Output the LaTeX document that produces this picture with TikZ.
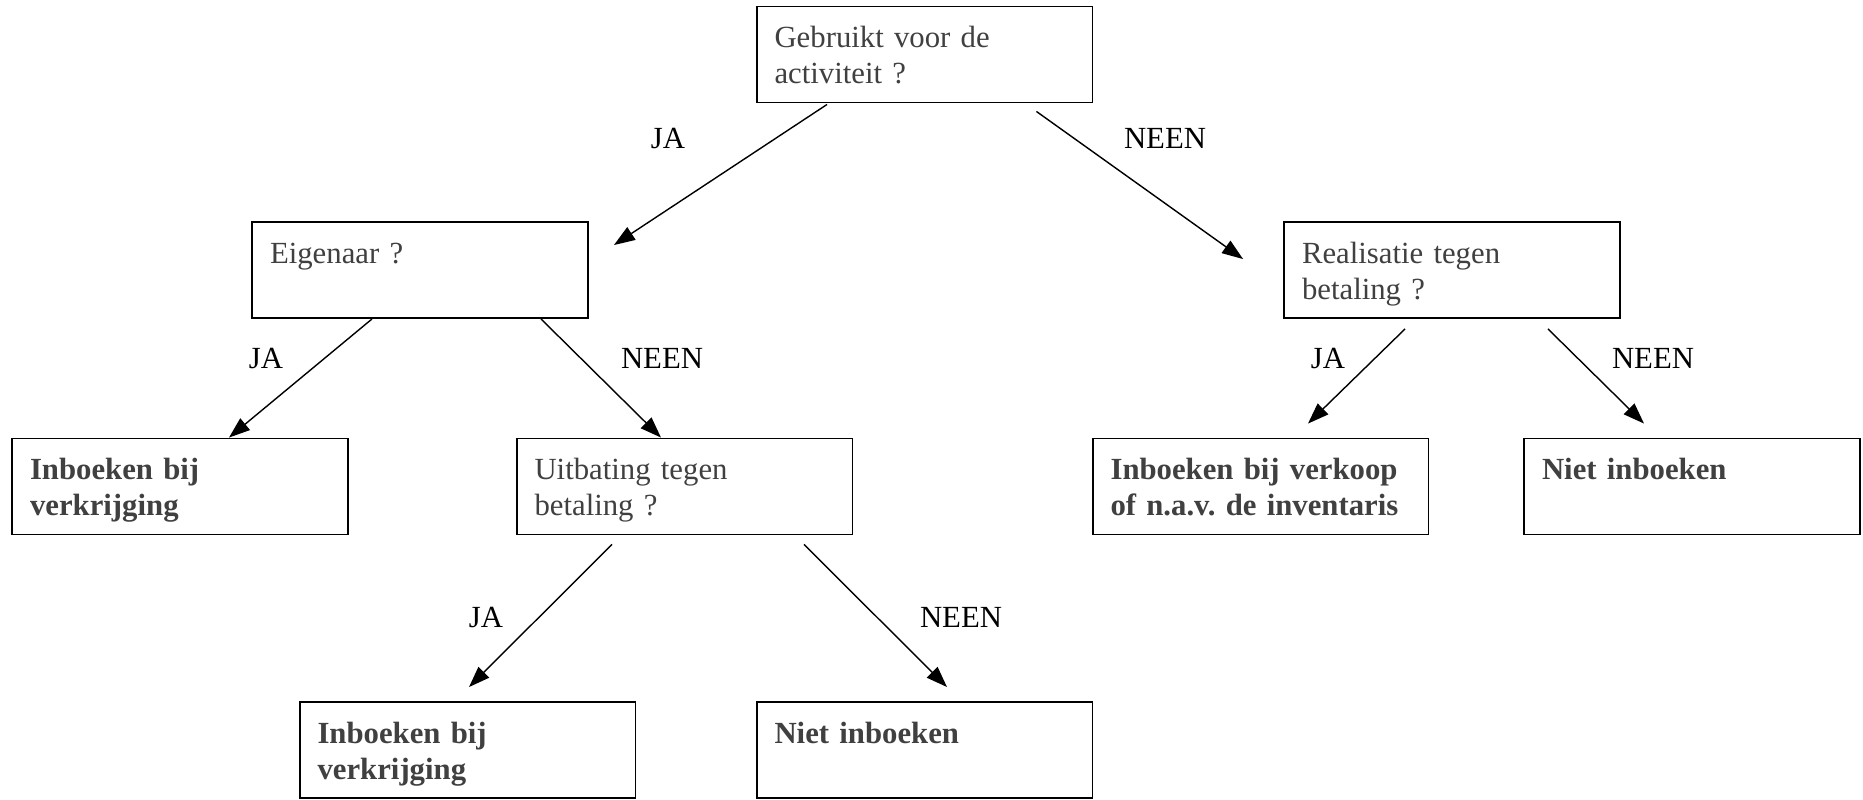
\documentclass[tikz,border=0pt]{standalone}
\usepackage{fontspec}
\setmainfont{Liberation Serif}
\usetikzlibrary{arrows.meta,calc}
\definecolor{boxgray}{RGB}{64,64,64}
\frenchspacing
\tikzset{leaf/.style={font=\fontsize{17.5}{20.5}\selectfont\bfseries}}

\begin{document}
\begin{tikzpicture}[x=0.02cm,y=-0.02cm]

        \useasboundingbox (0,0) rectangle (1863,799);

        \begin{scope}[every node/.style={draw,line width=1.1pt,text=boxgray,
            text width=6.0cm,align=left,inner xsep=0.36cm,inner ysep=0pt,
            text height=0.82cm,text depth=1.1cm,
            font=\fontsize{17.5}{20.5}\selectfont}]
          \node (1) at (924.5,54.5) {Gebruikt voor de\\activiteit ?};
          \node (2) at (420,270)    {Eigenaar ?};
          \node (3) at (1452,270)   {Realisatie tegen\\betaling ?};
          \node[leaf] (4) at (180,486.5)  {Inboeken bij\\verkrijging};
          \node (5) at (684.5,486.5)      {Uitbating tegen\\betaling ?};
          \node[leaf] (6) at (1260.5,486.5) {Inboeken bij verkoop\\of n.a.v. de inventaris};
          \node[leaf] (7) at (1692,486.5) {Niet inboeken};
          \node[leaf] (8) at (467.5,750)  {Inboeken bij\\verkrijging};
          \node[leaf] (9) at (924.5,750)  {Niet inboeken};
        \end{scope}

        \begin{scope}[every edge/.style={draw,line width=0.8pt,
            -{Triangle[length=0.42cm,width=0.3cm]}}]
          \path ($(1.south)+(-97.5,1)$) edge ($(2.north east)+(25,24)$);
          \path ($(1.south east)+(-57,8)$) edge ($(3.north west)+(-40,38)$);
          \path ($(2.south)+(-48,0)$) edge ($(4.north)+(49,0)$);
          \path ($(2.south)+(121,0)$) edge ($(5.north)+(-23.5,0)$);
          \path ($(3.south)+(-47,10)$) edge ($(6.north)+(47.5,-14)$);
          \path ($(3.south)+(96,10)$) edge ($(7.north)+(-48,-14)$);
          \path ($(5.south)+(-72.5,9)$) edge ($(8.north)+(1.5,-14)$);
          \path ($(5.south)+(119.5,9)$) edge ($(9.north)+(22.5,-14)$);
        \end{scope}

        \begin{scope}[every node/.style={inner sep=0pt,
            font=\fontsize{17.5}{20.5}\selectfont}]
          \node (ja1)   at (668,138)  {JA};
          \node (neen1) at (1165,138) {NEEN};
          \node (ja2)   at (266,358)  {JA};
          \node (neen2) at (662,358)  {NEEN};
          \node (ja3)   at (1328,358) {JA};
          \node (neen3) at (1653,358) {NEEN};
          \node (ja4)   at (486,617)  {JA};
          \node (neen4) at (961,617)  {NEEN};
        \end{scope}

      \end{tikzpicture}
\end{document}
